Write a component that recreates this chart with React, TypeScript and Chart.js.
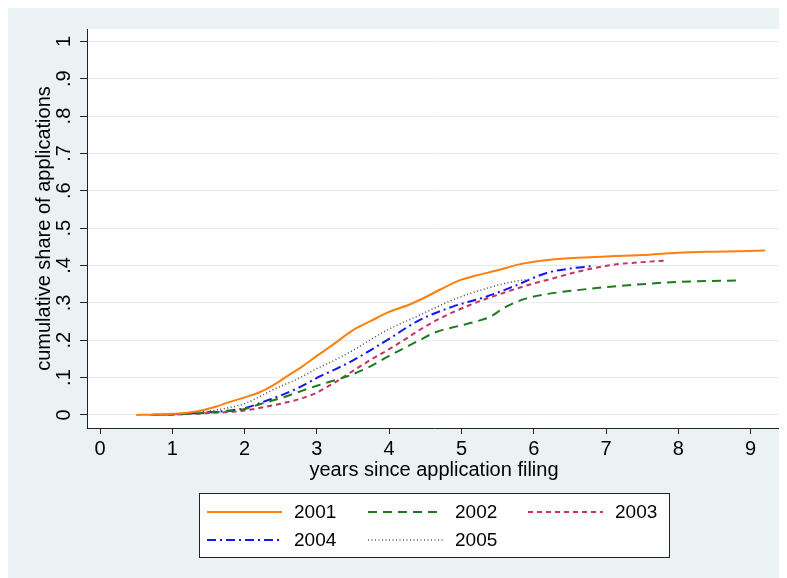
import React, { useEffect, useRef } from "react";
import { Chart, registerables } from "chart.js";

Chart.register(...registerables);

const seriesLabels = ["2001", "2002", "2003", "2004", "2005"];

const x2001 = [0.5, 0.8, 1.0, 1.2, 1.4, 1.6, 1.8, 2.0, 2.2, 2.4, 2.6, 2.8, 3.0, 3.2, 3.5, 3.75, 4.0, 4.3, 4.5, 4.7, 5.0, 5.2, 5.5, 5.8, 6.0, 6.2, 6.6, 7.0, 7.5, 8.0, 8.5, 9.2];
const y2001 = [0, 0.001, 0.003, 0.006, 0.012, 0.022, 0.035, 0.047, 0.06, 0.08, 0.105, 0.13, 0.158, 0.185, 0.227, 0.252, 0.276, 0.297, 0.315, 0.335, 0.362, 0.373, 0.387, 0.403, 0.41, 0.415, 0.421, 0.424, 0.428, 0.434, 0.437, 0.44];

const x2002 = [0.7, 1.0, 1.5, 2.0, 2.2, 2.5, 2.8, 3.0, 3.2, 3.4, 3.7, 4.0, 4.2, 4.4, 4.65, 5.0, 5.2, 5.4, 5.6, 5.9, 6.2, 6.6, 7.0, 7.5, 8.0, 8.8];
const y2002 = [0, 0.001, 0.006, 0.016, 0.028, 0.045, 0.065, 0.078, 0.09, 0.102, 0.126, 0.158, 0.178, 0.198, 0.222, 0.24, 0.25, 0.263, 0.288, 0.312, 0.324, 0.334, 0.342, 0.35, 0.356, 0.36];

const x2003 = [0.7, 1.0, 1.5, 1.8, 2.0, 2.3, 2.5, 2.8, 3.0, 3.3, 3.5, 3.73, 4.0, 4.2, 4.4, 4.65, 5.1, 5.57, 6.0, 6.2, 6.6, 7.1, 7.5, 7.85];
const y2003 = [0, 0.001, 0.005, 0.008, 0.012, 0.022, 0.03, 0.045, 0.06, 0.093, 0.118, 0.146, 0.176, 0.2, 0.225, 0.253, 0.293, 0.326, 0.352, 0.362, 0.383, 0.402, 0.409, 0.413];

const x2004 = [0.7, 1.0, 1.5, 1.8, 2.0, 2.3, 2.5, 2.77, 3.04, 3.23, 3.5, 3.97, 4.42, 4.88, 5.35, 5.72, 6.18, 6.55, 6.8];
const y2004 = [0, 0.002, 0.007, 0.012, 0.018, 0.038, 0.052, 0.075, 0.103, 0.12, 0.146, 0.2, 0.254, 0.29, 0.317, 0.344, 0.38, 0.393, 0.398];

const x2005 = [0.7, 1.0, 1.5, 1.8, 2.0, 2.2, 2.4, 2.77, 3.04, 3.23, 3.5, 3.97, 4.42, 4.88, 5.35, 5.72, 5.9];
const y2005 = [0, 0.002, 0.01, 0.02, 0.03, 0.048, 0.068, 0.1, 0.128, 0.145, 0.173, 0.227, 0.267, 0.308, 0.339, 0.357, 0.362];

const yTickValues = [0, 0.1, 0.2, 0.3, 0.4, 0.5, 0.6, 0.7, 0.8, 0.9, 1];
const yTickLabels = ["0", ".1", ".2", ".3", ".4", ".5", ".6", ".7", ".8", ".9", "1"];
const xTickLabels = ["0", "1", "2", "3", "4", "5", "6", "7", "8", "9"];

const xTitle = "years since application filing";
const yTitle = "cumulative share of applications";

const FONT = "'Liberation Sans', Arial, Helvetica, sans-serif";

const toPoints = (xs: number[], ys: number[]) => xs.map((x, i) => ({ x, y: ys[i] }));

const styles = [
  { color: "#FF7F0E", dash: [] as number[], width: 2 },
  { color: "#1F7A1F", dash: [9, 6], width: 2 },
  { color: "#C8325F", dash: [5, 4], width: 2 },
  { color: "#1414FF", dash: [9, 4, 2, 4], width: 2 },
  { color: "#555555", dash: [1, 2.5], width: 1.6 },
];

export default function App() {
  const ref = useRef<HTMLCanvasElement | null>(null);

  useEffect(() => {
    document.documentElement.style.overflow = "hidden";
    document.body.style.overflow = "hidden";
    const canvas = ref.current;
    if (!canvas) return;

    const seriesData = [
      toPoints(x2001, y2001),
      toPoints(x2002, y2002),
      toPoints(x2003, y2003),
      toPoints(x2004, y2004),
      toPoints(x2005, y2005),
    ];

    const decor = {
      id: "decor",
      beforeDraw(chart: any) {
        const { ctx, chartArea: a, width, height } = chart;
        ctx.save();
        ctx.fillStyle = "#EAF2F3";
        ctx.fillRect(0, 0, width, height);
        ctx.fillStyle = "#FFFFFF";
        ctx.fillRect(a.left, a.top, a.right - a.left, a.bottom - a.top);
        ctx.restore();
      },
      afterDraw(chart: any) {
        const { ctx, chartArea: a } = chart;
        const ys = chart.scales.y;
        ctx.save();
        ctx.fillStyle = "#000";
        ctx.font = `20px ${FONT}`;
        ctx.textAlign = "center";
        ctx.textBaseline = "alphabetic";
        yTickValues.forEach((v, i) => {
          const py = ys.getPixelForValue(v);
          ctx.save();
          ctx.translate(62, py);
          ctx.rotate(-Math.PI / 2);
          ctx.fillText(yTickLabels[i], 0, 0);
          ctx.restore();
        });
        ctx.save();
        ctx.translate(42, (a.top + a.bottom) / 2);
        ctx.rotate(-Math.PI / 2);
        ctx.fillText(yTitle, 0, 0);
        ctx.restore();
        ctx.fillText(xTitle, (a.left + a.right) / 2, 468);

        ctx.fillStyle = "#FFFFFF";
        ctx.fillRect(191, 485, 470, 64);
        ctx.strokeStyle = "#222";
        ctx.lineWidth = 1;
        ctx.strokeRect(191.5, 485.5, 470, 64);
        const cols = [199, 360, 520];
        const rows = [504, 532];
        ctx.font = `19px ${FONT}`;
        ctx.textAlign = "left";
        ctx.textBaseline = "middle";
        seriesLabels.forEach((lab, i) => {
          const c = cols[i % 3];
          const r = rows[Math.floor(i / 3)];
          const st = styles[i];
          ctx.save();
          ctx.strokeStyle = st.color;
          ctx.lineWidth = st.width;
          ctx.setLineDash(st.dash);
          ctx.beginPath();
          ctx.moveTo(c, r);
          ctx.lineTo(c + 75, r);
          ctx.stroke();
          ctx.restore();
          ctx.fillStyle = "#000";
          ctx.fillText(lab, c + 87, r + 1);
        });
        ctx.restore();
      },
    };

    const chart = new Chart(canvas, {
      type: "line",
      data: {
        datasets: seriesLabels.map((lab, i) => ({
          label: lab,
          data: seriesData[i],
          borderColor: styles[i].color,
          backgroundColor: styles[i].color,
          borderWidth: styles[i].width,
          borderDash: styles[i].dash,
          pointRadius: 0,
          fill: false,
          cubicInterpolationMode: "monotone" as const,
        })),
      },
      options: {
        responsive: false,
        animation: false,
        devicePixelRatio: 1,
        layout: { padding: { left: 0, right: 6, top: 21, bottom: 110 } },
        plugins: {
          legend: { display: false },
          tooltip: { enabled: false },
          title: { display: false },
        },
        scales: {
          x: {
            type: "linear",
            min: -0.18,
            max: 9.42,
            ticks: {
              stepSize: 1,
              includeBounds: false,
              autoSkip: false,
              maxRotation: 0,
              minRotation: 0,
              color: "#000",
              padding: 3,
              font: { family: FONT, size: 20 },
              callback: (v: any) => {
                const idx = Math.round(Number(v));
                return xTickLabels[idx] ?? "";
              },
            },
            grid: {
              drawOnChartArea: false,
              drawTicks: true,
              tickLength: 6,
              tickColor: "#222",
            },
            border: { color: "#222", width: 1 },
            afterFit: (s: any) => {
              s.height = 40;
            },
          },
          y: {
            type: "linear",
            min: -0.035,
            max: 1.033,
            ticks: { stepSize: 0.1, includeBounds: false, display: false },
            grid: {
              color: "#E3ECEF",
              lineWidth: 1,
              drawTicks: true,
              tickLength: 7,
              tickColor: "#222",
            },
            border: { color: "#222", width: 1 },
            afterFit: (s: any) => {
              s.width = 79;
            },
          },
        },
      },
      plugins: [decor],
    });

    return () => chart.destroy();
  }, []);

  return (
    <canvas
      ref={ref}
      width={779}
      height={570}
      style={{ display: "block", width: 779, height: 570 }}
    />
  );
}
